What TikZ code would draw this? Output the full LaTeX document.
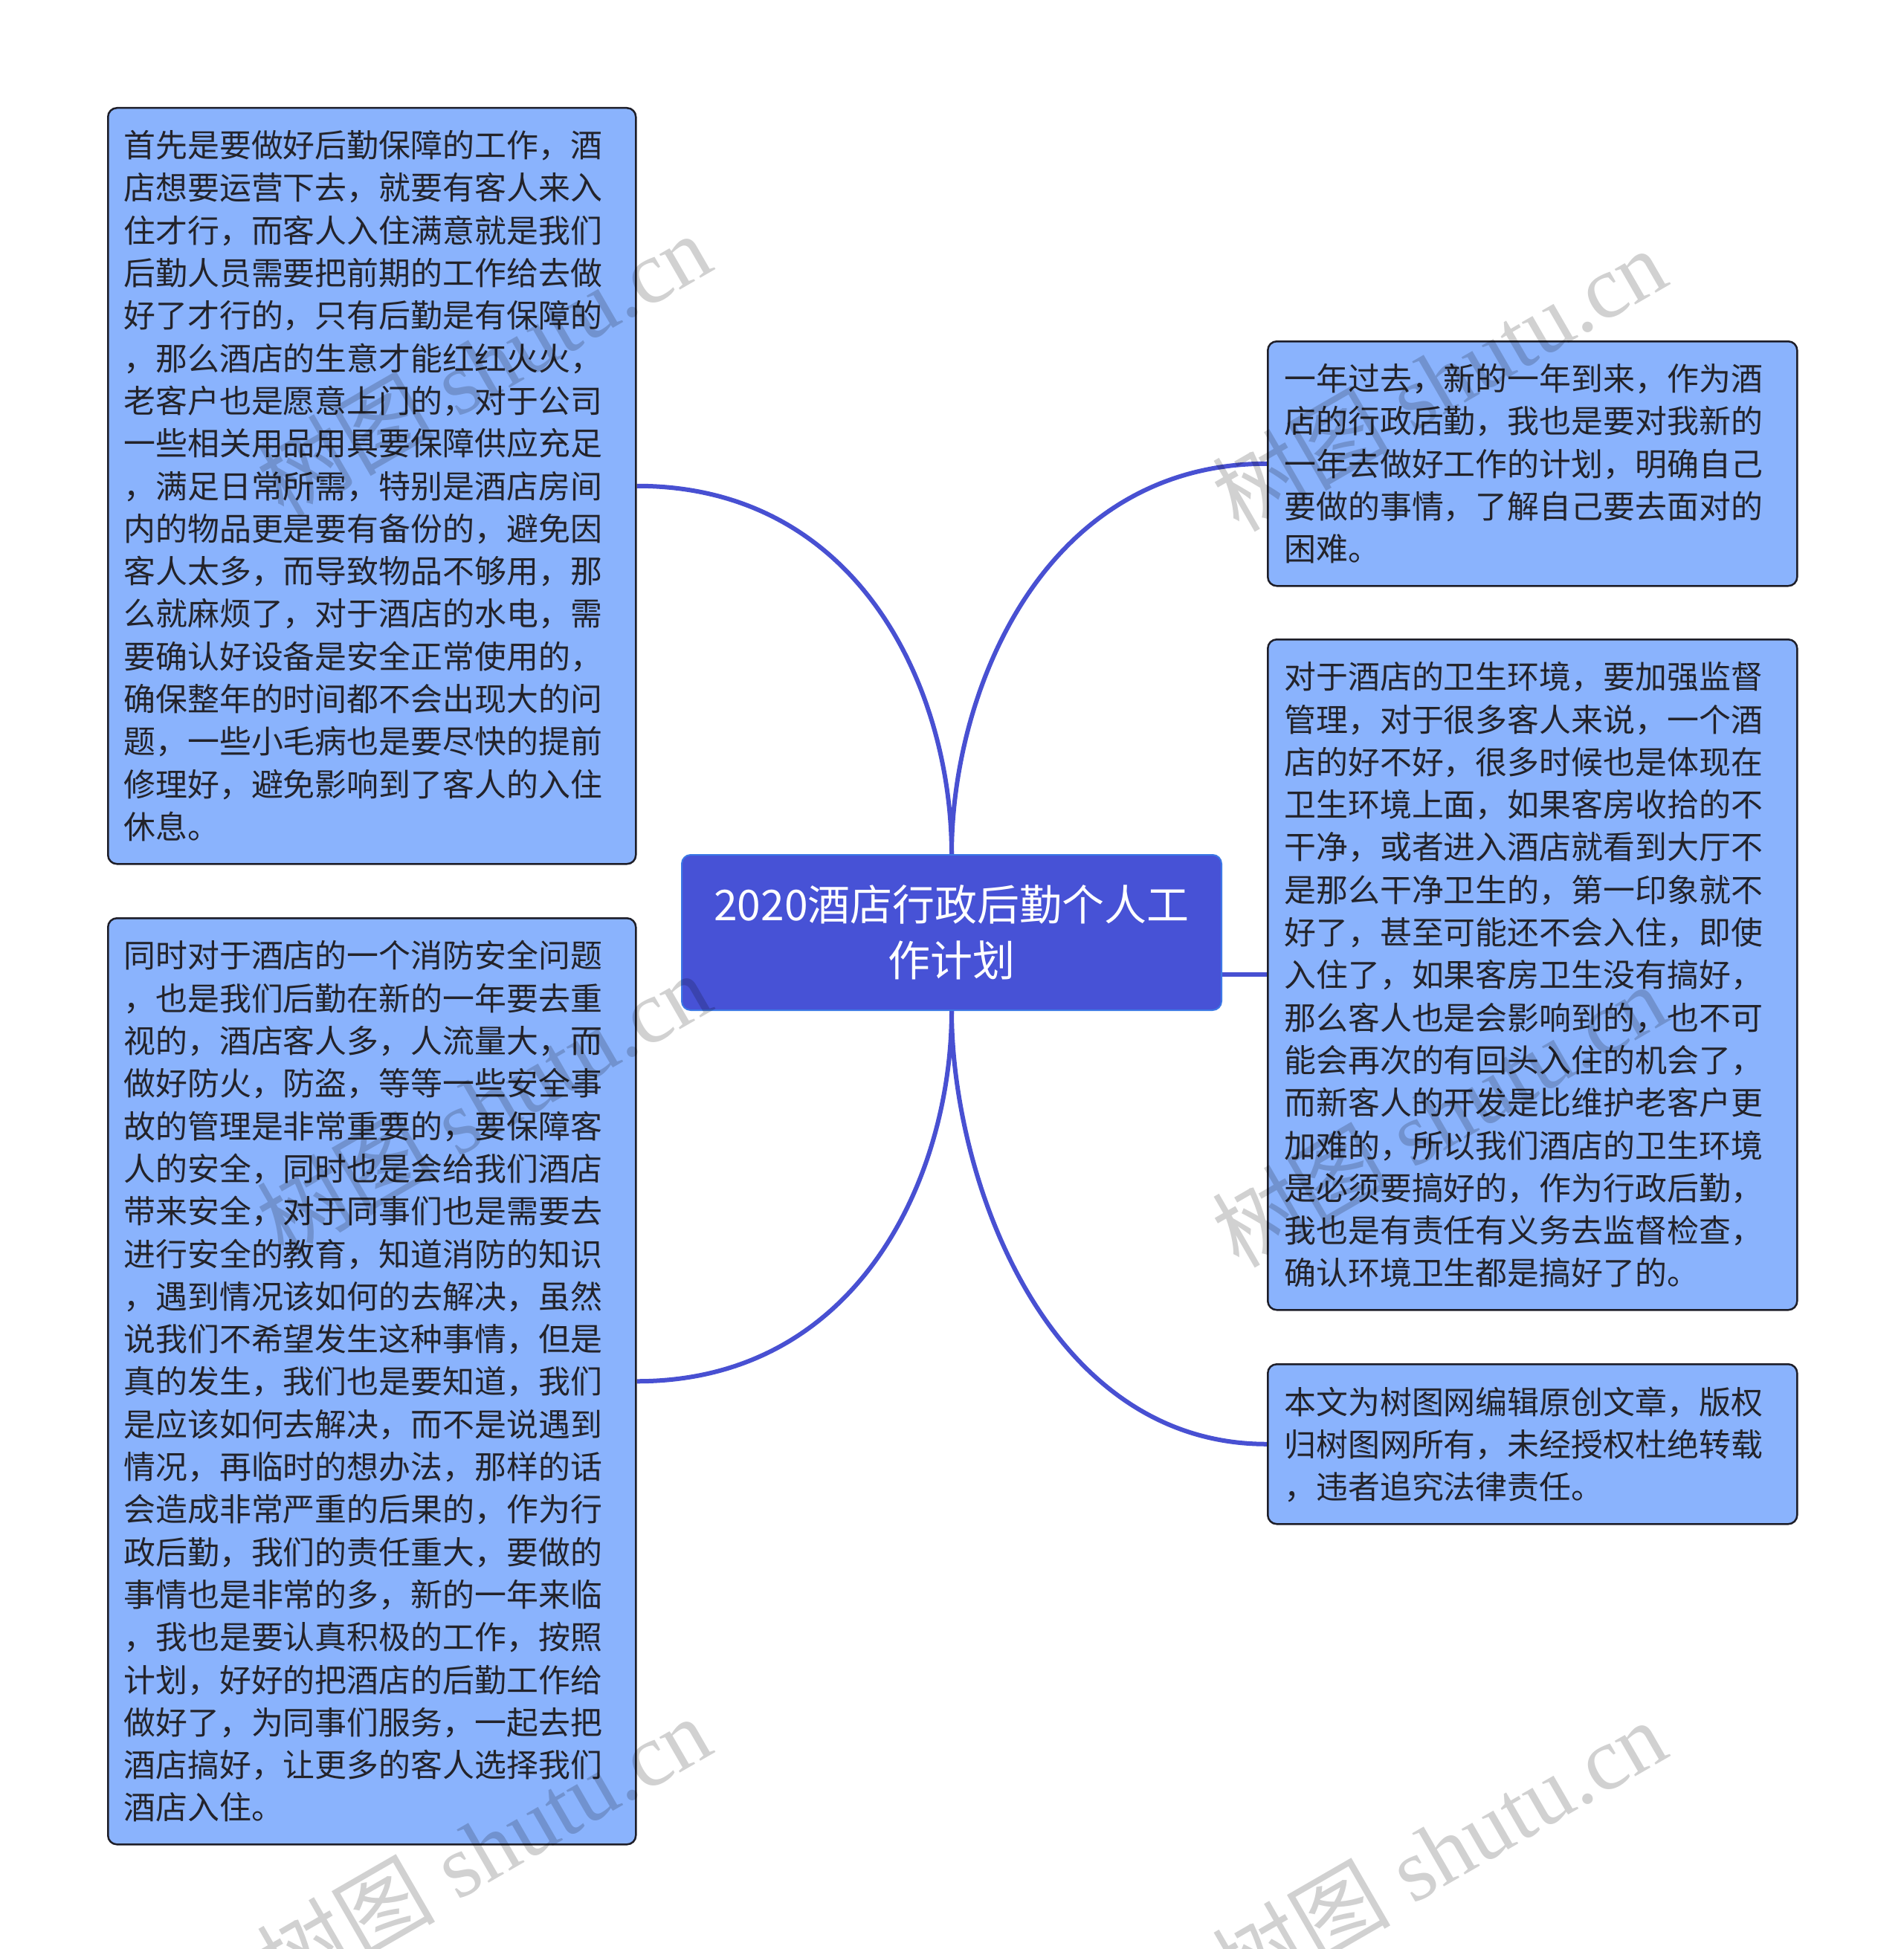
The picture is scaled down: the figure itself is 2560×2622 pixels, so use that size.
\documentclass[tikz,border=0pt]{standalone}
\usepackage{fontspec}
\setmainfont{Liberation Serif}
\newfontfamily\cjk{Noto Sans CJK SC}
\definecolor{boxfill}{RGB}{138,179,253}
\definecolor{boxline}{RGB}{30,30,40}
\definecolor{rootfill}{RGB}{71,82,214}
\definecolor{rootline}{RGB}{60,120,230}
\definecolor{conncol}{RGB}{72,80,210}
\definecolor{txtcol}{RGB}{35,35,42}
\pgfdeclarelayer{bg}
\pgfsetlayers{bg,main}
\tikzset{
  leafbox/.style={draw=boxline, line width=1.25pt, fill=boxfill, rounded corners=6pt,
    inner sep=0pt, anchor=north west, minimum width=#1},
  leaftxt/.style={inner sep=0pt, anchor=north west, align=left, text=txtcol,
    font={\cjk\fontsize{21.45pt}{28.65pt}\selectfont}},
  rootbox/.style={draw=rootline, line width=1pt, fill=rootfill, rounded corners=6pt,
    inner sep=0pt, anchor=north west, minimum width=363pt, minimum height=104.5pt,
    align=center, text=white, font={\cjk\fontsize{28.5pt}{37.5pt}\selectfont}},
  conn/.style={draw=conncol, line width=3pt},
  wmark/.style={rotate=30, inner sep=0pt, text=black, text opacity=0.18,
    font={\fontsize{60pt}{60pt}\selectfont}}
}
\begin{document}
\begin{tikzpicture}[x=0.5pt,y=-0.5pt]
\useasboundingbox (0,0) rectangle (2560,2622);

% root
\node[rootbox] (root) at (916,1149) {2020酒店行政后勤个人工\\作计划};

% left boxes
\node[leafbox=355pt, minimum height=508.5pt] (l1) at (144,144) {};
\node[leaftxt] (l1t) at (166,175) {首先是要做好后勤保障的工作，酒\\店想要运营下去，就要有客人来入\\住才行，而客人入住满意就是我们\\后勤人员需要把前期的工作给去做\\好了才行的，只有后勤是有保障的\\，那么酒店的生意才能红红火火，\\老客户也是愿意上门的，对于公司\\一些相关用品用具要保障供应充足\\，满足日常所需，特别是酒店房间\\内的物品更是要有备份的，避免因\\客人太多，而导致物品不够用，那\\么就麻烦了，对于酒店的水电，需\\要确认好设备是安全正常使用的，\\确保整年的时间都不会出现大的问\\题，一些小毛病也是要尽快的提前\\修理好，避免影响到了客人的入住\\休息。};

\node[leafbox=355pt, minimum height=623pt] (l2) at (144,1234) {};
\node[leaftxt] (l2t) at (166,1265) {同时对于酒店的一个消防安全问题\\，也是我们后勤在新的一年要去重\\视的，酒店客人多，人流量大，而\\做好防火，防盗，等等一些安全事\\故的管理是非常重要的，要保障客\\人的安全，同时也是会给我们酒店\\带来安全，对于同事们也是需要去\\进行安全的教育，知道消防的知识\\，遇到情况该如何的去解决，虽然\\说我们不希望发生这种事情，但是\\真的发生，我们也是要知道，我们\\是应该如何去解决，而不是说遇到\\情况，再临时的想办法，那样的话\\会造成非常严重的后果的，作为行\\政后勤，我们的责任重大，要做的\\事情也是非常的多，新的一年来临\\，我也是要认真积极的工作，按照\\计划，好好的把酒店的后勤工作给\\做好了，为同事们服务，一起去把\\酒店搞好，让更多的客人选择我们\\酒店入住。};

% right boxes
\node[leafbox=356pt, minimum height=164.5pt] (r1) at (1704,458) {};
\node[leaftxt] (r1t) at (1727,489) {一年过去，新的一年到来，作为酒\\店的行政后勤，我也是要对我新的\\一年去做好工作的计划，明确自己\\要做的事情，了解自己要去面对的\\困难。};

\node[leafbox=356pt, minimum height=451pt] (r2) at (1704,859) {};
\node[leaftxt] (r2t) at (1727,890) {对于酒店的卫生环境，要加强监督\\管理，对于很多客人来说，一个酒\\店的好不好，很多时候也是体现在\\卫生环境上面，如果客房收拾的不\\干净，或者进入酒店就看到大厅不\\是那么干净卫生的，第一印象就不\\好了，甚至可能还不会入住，即使\\入住了，如果客房卫生没有搞好，\\那么客人也是会影响到的，也不可\\能会再次的有回头入住的机会了，\\而新客人的开发是比维护老客户更\\加难的，所以我们酒店的卫生环境\\是必须要搞好的，作为行政后勤，\\我也是有责任有义务去监督检查，\\确认环境卫生都是搞好了的。};

\node[leafbox=356pt, minimum height=107.5pt] (r3) at (1704,1834) {};
\node[leaftxt] (r3t) at (1727,1865) {本文为树图网编辑原创文章，版权\\归树图网所有，未经授权杜绝转载\\，违者追究法律责任。};

% background and connectors
\begin{pgfonlayer}{bg}
\fill[white] (0,0) rectangle (2560,2622);
\draw[conn] (l1.east) .. controls +(300,0) and +(0,-220) .. (root.north);
\draw[conn] (r1.west) .. controls +(-300,0) and +(0,-220) .. (root.north);
\draw[conn] (l2.east) .. controls +(300,0) and +(0,220) .. (root.south);
\draw[conn] (r3.west) .. controls +(-300,0) and +(0,220) .. (root.south);
\draw[conn] (root.east |- r2.west) -- (r2.west);
\end{pgfonlayer}

% watermarks
\node[wmark] (w1) at (650,490) {{\cjk 树图} shutu.cn};
\node[wmark] (w2) at (1935,510) {{\cjk 树图} shutu.cn};
\node[wmark] (w3) at (650,1485) {{\cjk 树图} shutu.cn};
\node[wmark] (w4) at (1935,1500) {{\cjk 树图} shutu.cn};
\node[wmark] (w5) at (650,2485) {{\cjk 树图} shutu.cn};
\node[wmark] (w6) at (1935,2490) {{\cjk 树图} shutu.cn};
\end{tikzpicture}
\end{document}
